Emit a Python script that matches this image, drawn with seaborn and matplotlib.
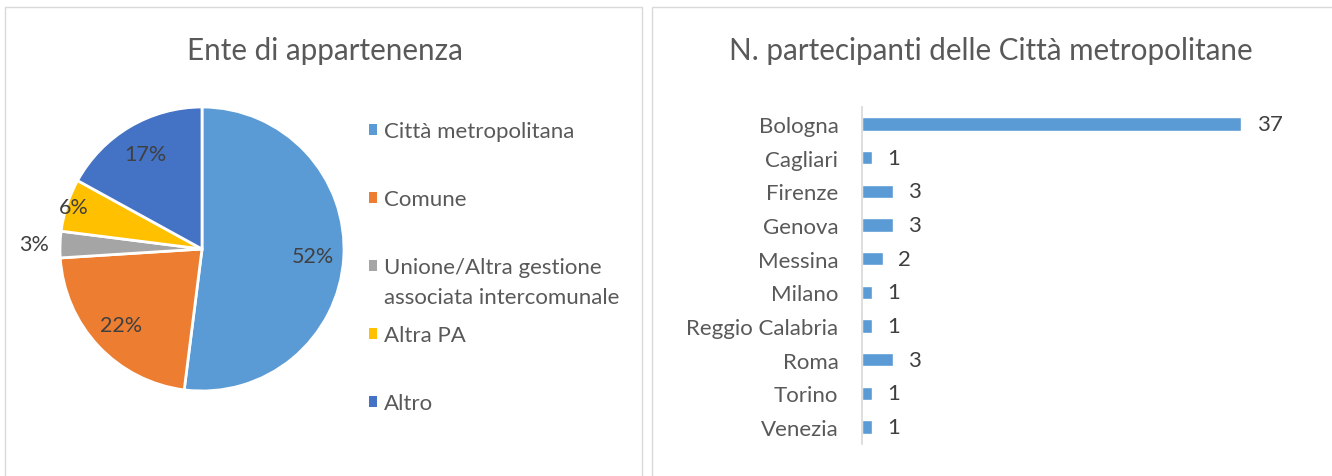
import matplotlib
matplotlib.use("Agg")
import matplotlib.pyplot as plt
from matplotlib.patches import Rectangle, Patch
import numpy as np
import seaborn as sns

# pie data: Ente di appartenenza (percent)
enti = ["Città metropolitana", "Comune", "Unione/Altra gestione", "Altra PA", "Altro"]
enti_extra = "associata intercomunale"
quote = [52, 22, 3, 6, 17]
colori_pie = ["#5B9BD5", "#ED7D31", "#A5A5A5", "#FFC000", "#4472C4"]

# bar data: partecipanti per città metropolitana
citta = ["Bologna", "Cagliari", "Firenze", "Genova", "Messina", "Milano",
         "Reggio Calabria", "Roma", "Torino", "Venezia"]
partecipanti = [37, 1, 3, 3, 2, 1, 1, 3, 1, 1]

sns.set_theme(style="white")
plt.rcParams["font.family"] = ["Lato", "DejaVu Sans"]

W, H = 1332, 477
fig = plt.figure(figsize=(W / 100, H / 100), dpi=100)
fig.patch.set_facecolor("white")

def px(x0, y0, w, h):
    # pixel box (top-left origin) -> figure fraction
    return [x0 / W, 1 - (y0 + h) / H, w / W, h / H]

grey_txt = "#595959"
dark_txt = "#404040"
border = "#D9D9D9"

# panel borders
for x0, x1 in [(5, 642), (652, 1340)]:
    fig.patches.append(Rectangle((x0 / W, -0.1), (x1 - x0) / W, (H - 8) / H + 0.1,
                                 transform=fig.transFigure, fill=False,
                                 edgecolor=border, linewidth=1))

# titles
fig.text(325 / W, 1 - 51 / H, "Ente di appartenenza", ha="center", va="center",
         fontsize=21.3, color=grey_txt)
fig.text(991 / W, 1 - 51 / H, "N. partecipanti delle Città metropolitane",
         ha="center", va="center", fontsize=21.3, color=grey_txt)

# --- pie ---
ax1 = fig.add_axes(px(60, 108, 284, 284))
wedges, texts, autotexts = ax1.pie(
    quote, colors=colori_pie, startangle=90, counterclock=False,
    autopct="%1.0f%%", pctdistance=0.78,
    wedgeprops=dict(edgecolor="white", linewidth=2),
    textprops=dict(fontsize=15.5, color=dark_txt))
# push small slice labels outward like the original
radius_fix = {2: 1.18, 3: 0.95}
for i, t in enumerate(autotexts):
    if i in radius_fix:
        x, y = t.get_position()
        k = radius_fix[i] / 0.78
        t.set_position((x * k, y * k))
ax1.set_xlim(-1, 1)
ax1.set_ylim(-1, 1)
ax1.set_aspect("equal")
ax1.axis("off")

handles = [Patch(facecolor=c, edgecolor="none") for c in colori_pie]
leg = fig.legend(handles, enti, loc="upper left",
                 bbox_to_anchor=(369 / W, 1 - 122 / H), frameon=False,
                 fontsize=16, labelcolor=grey_txt, borderpad=0, borderaxespad=0,
                 handlelength=0.38, handleheight=0.38, handletextpad=0.3,
                 labelspacing=2.16)

# --- bars ---
ax2 = fig.add_axes(px(862, 108, 410, 337))
sns.barplot(x=partecipanti, y=citta, color="#5B9BD5", width=0.4,
            saturation=1, ax=ax2)
ax2.set_xlim(0, 40)
ax2.bar_label(ax2.containers[0], padding=11, fontsize=16, color=dark_txt)
ax2.set_xticks([])
ax2.set_xlabel("")
ax2.set_ylabel("")
for s in ["top", "right", "bottom"]:
    ax2.spines[s].set_visible(False)
ax2.spines["left"].set_color(border)
ax2.tick_params(axis="y", which="major", length=0, pad=17, labelsize=16,
                labelcolor=grey_txt)
ax2.set_yticks(np.arange(-0.5, len(citta)), minor=True)
ax2.tick_params(axis="y", which="minor", length=5, color=border, direction="out")

# second line of the long legend label, hung under its first line
fig.canvas.draw()
bb = leg.get_texts()[2].get_window_extent()
fig.text(bb.x0 / W, (bb.y0 - 30) / H, enti_extra, ha="left", va="bottom",
         fontsize=16, color=grey_txt)

fig.savefig("out.png", dpi=100, facecolor="white")
